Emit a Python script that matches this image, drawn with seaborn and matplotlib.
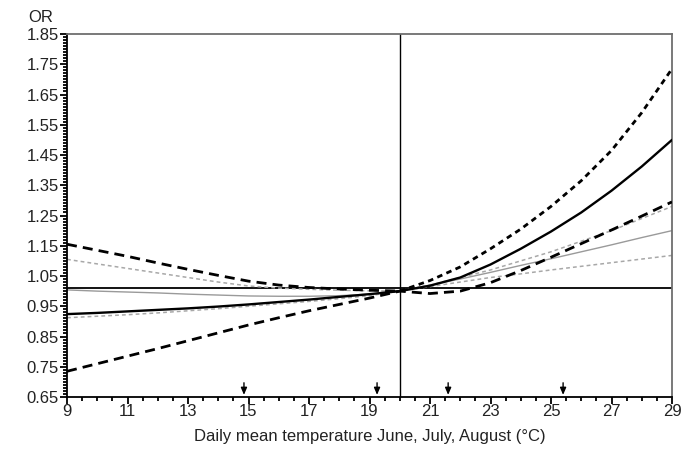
import numpy as np
import pandas as pd
import seaborn as sns
import matplotlib
matplotlib.use("Agg")
import matplotlib.pyplot as plt

# ---- data ----
temps = [9, 10, 11, 12, 13, 14, 15, 16, 17, 18, 19, 20,
         21, 22, 23, 24, 25, 26, 27, 28, 29]

a_or = [0.924, 0.928, 0.933, 0.938, 0.943, 0.949, 0.956, 0.964, 0.972, 0.981, 0.990, 1.000,
        1.018, 1.045, 1.088, 1.140, 1.197, 1.260, 1.332, 1.412, 1.500]
a_hi = [1.155, 1.135, 1.115, 1.093, 1.072, 1.052, 1.033, 1.020, 1.012, 1.007, 1.003, 1.000,
        1.035, 1.080, 1.140, 1.205, 1.280, 1.365, 1.465, 1.590, 1.735]
a_lo = [0.735, 0.760, 0.785, 0.810, 0.836, 0.862, 0.888, 0.912, 0.935, 0.956, 0.977, 1.000,
        0.992, 1.000, 1.028, 1.068, 1.112, 1.157, 1.202, 1.248, 1.295]

b_or = [1.004, 1.000, 0.997, 0.994, 0.990, 0.987, 0.984, 0.983, 0.983, 0.985, 0.990, 1.000,
        1.020, 1.040, 1.062, 1.085, 1.107, 1.130, 1.153, 1.177, 1.200]
b_hi = [1.105, 1.090, 1.075, 1.060, 1.045, 1.030, 1.017, 1.010, 1.006, 1.003, 1.001, 1.000,
        1.020, 1.045, 1.070, 1.100, 1.130, 1.165, 1.200, 1.240, 1.280]
b_lo = [0.912, 0.917, 0.922, 0.928, 0.935, 0.942, 0.950, 0.958, 0.966, 0.975, 0.985, 1.000,
        1.015, 1.030, 1.045, 1.057, 1.070, 1.082, 1.094, 1.106, 1.118]

ref_temp = 20
ref_or = 1.01
arrow_temps = [14.85, 19.25, 21.6, 25.4]

x_ticks = [9, 11, 13, 15, 17, 19, 21, 23, 25, 27, 29]
y_ticks = [0.65, 0.75, 0.85, 0.95, 1.05, 1.15, 1.25, 1.35, 1.45, 1.55, 1.65, 1.75, 1.85]
x_label = "Daily mean temperature June, July, August (°C)"
y_label = "OR"

# ---- drawing ----
sns.set_theme(style="white")
plt.rcParams['font.family'] = ['Liberation Sans', 'DejaVu Sans']

fig = plt.figure(figsize=(6.92, 4.54), dpi=100)
ax = fig.add_axes([67/692, 1-397/454, (672-67)/692, (397-34)/454])

mid = temps.index(ref_temp)
GRAY = "#9a9a9a"
GRAYD = "#a8a8a8"

# reference lines
ax.axhline(ref_or, color="black", lw=1.3, zorder=1)
ax.axvline(ref_temp, color="black", lw=1.0, zorder=1)

# group B (gray)
sns.lineplot(x=temps, y=b_or, ax=ax, color=GRAY, lw=1.0, zorder=2)
sns.lineplot(x=temps, y=b_hi, ax=ax, color=GRAYD, lw=1.1, linestyle=(0, (2.5, 2.0)), zorder=2)
sns.lineplot(x=temps, y=b_lo, ax=ax, color=GRAYD, lw=1.1, linestyle=(0, (2.5, 2.0)), zorder=2)

# group A (black)
sns.lineplot(x=temps, y=a_or, ax=ax, color="black", lw=1.7, zorder=3)
sns.lineplot(x=temps[:mid+1], y=a_hi[:mid+1], ax=ax, color="black", lw=2.0,
             linestyle=(0, (3.6, 2.2)), zorder=3)
sns.lineplot(x=temps[mid:], y=a_hi[mid:], ax=ax, color="black", lw=2.0,
             linestyle=(0, (2.0, 1.6)), zorder=3)
sns.lineplot(x=temps, y=a_lo, ax=ax, color="black", lw=2.0,
             linestyle=(0, (3.6, 2.2)), zorder=3)

# arrows
for t in arrow_temps:
    ax.annotate("", xy=(t, 0.657), xytext=(t, 0.697),
                arrowprops=dict(arrowstyle="-|>,head_length=0.35,head_width=0.15",
                                color="black", lw=1.0, shrinkA=0, shrinkB=0))

ax.set_xlim(9, 29)
ax.set_ylim(0.65, 1.85)
ax.set_xticks(x_ticks)
ax.set_xticklabels([str(v) for v in x_ticks])
ax.set_xticks(np.arange(9, 29.01, 0.5), minor=True)
ax.set_yticks(y_ticks)
ax.set_yticklabels([f"{v:.2f}" for v in y_ticks])
ax.set_yticks(np.arange(0.65, 1.8501, 0.01), minor=True)

ax.tick_params(axis="both", which="both", left=True, bottom=True, top=False, right=False)
ax.tick_params(axis="both", which="major", direction="out", length=5, width=1.3,
               color="black", labelsize=12, labelcolor="#222222", pad=1)
ax.tick_params(axis="both", which="minor", direction="out", length=3, width=1.3,
               color="black")
ax.tick_params(axis="x", which="major", pad=0)

for side in ["left", "bottom"]:
    ax.spines[side].set_color("black")
    ax.spines[side].set_linewidth(1.3)
for side in ["top", "right"]:
    ax.spines[side].set_color("#6e6e6e")
    ax.spines[side].set_linewidth(1.3)
    ax.spines[side].set_visible(True)

ax.set_xlabel(x_label, fontsize=12, color="#222222", labelpad=7)
ax.set_ylabel("")
fig.text(41/692, 1-18/454, y_label, ha="center", va="center", fontsize=12, color="#222222")

fig.savefig("out.png", dpi=100, facecolor="white")
